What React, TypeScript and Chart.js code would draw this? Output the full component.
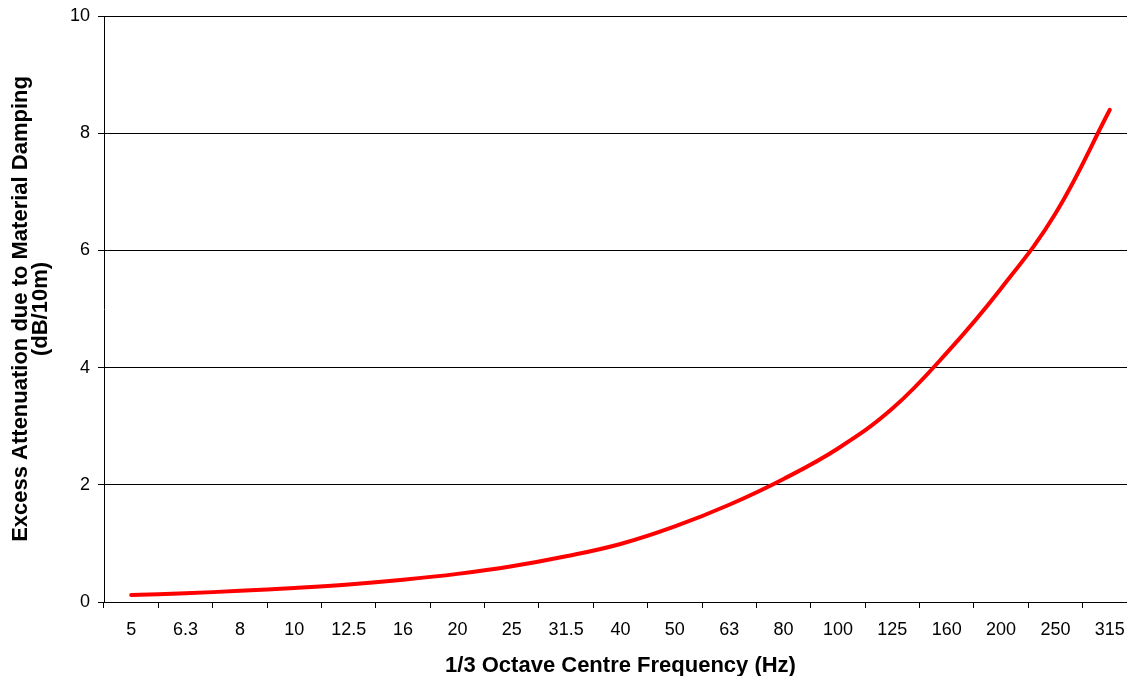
import React, { useEffect, useRef } from "react";
import { Chart, registerables } from "chart.js";

Chart.register(...registerables);

const categories = ["5", "6.3", "8", "10", "12.5", "16", "20", "25", "31.5", "40", "50", "63", "80", "100", "125", "160", "200", "250", "315"];
const attenuation = [0.12, 0.15, 0.19, 0.24, 0.30, 0.38, 0.48, 0.61, 0.78, 0.99, 1.29, 1.66, 2.10, 2.62, 3.30, 4.25, 5.35, 6.63, 8.40];
const yTitle = ["Excess Attenuation due to Material Damping", "(dB/10m)"];
const xTitle = "1/3 Octave Centre Frequency (Hz)";

const FONT = "'Liberation Sans', Arial, sans-serif";

export default function App() {
  const ref = useRef<HTMLCanvasElement | null>(null);

  useEffect(() => {
    if (!ref.current) return;
    const chart = new Chart(ref.current, {
      type: "line",
      data: {
        labels: categories,
        datasets: [
          {
            data: attenuation,
            borderColor: "#ff0000",
            borderWidth: 4,
            borderCapStyle: "round",
            borderJoinStyle: "round",
            pointRadius: 0,
            tension: 0.4,
            fill: false,
          },
        ],
      },
      options: {
        animation: false,
        responsive: false,
        devicePixelRatio: 1,
        layout: { padding: { left: 0, top: 16, right: 23, bottom: 0 } },
        plugins: { legend: { display: false }, tooltip: { enabled: false } },
        scales: {
          x: {
            type: "category",
            offset: true,
            grid: {
              display: true,
              drawOnChartArea: false,
              drawTicks: true,
              tickLength: 6,
              offset: true,
              color: "#000",
              lineWidth: 1,
            },
            border: { display: true, color: "#000", width: 1 },
            ticks: {
              color: "#000",
              font: { family: FONT, size: 18 },
              padding: 11,
              maxRotation: 0,
              autoSkip: false,
            },
            title: {
              display: true,
              text: xTitle,
              color: "#000",
              font: { family: FONT, size: 22, weight: "bold", lineHeight: 0.95 },
              padding: { top: 0, bottom: 0 },
            },
            afterFit: (scale: any) => {
              scale.height = 74;
            },
          },
          y: {
            min: 0,
            max: 10,
            ticks: {
              stepSize: 2,
              color: "#000",
              font: { family: FONT, size: 18 },
              padding: 8,
            },
            grid: {
              display: true,
              drawOnChartArea: true,
              drawTicks: true,
              tickLength: 6,
              color: "#000",
              lineWidth: 1,
            },
            border: { display: true, color: "#000", width: 1 },
            title: {
              display: true,
              text: yTitle,
              color: "#000",
              font: { family: FONT, size: 22, weight: "bold", lineHeight: 0.9 },
              padding: { top: 11, bottom: 0 },
            },
            afterFit: (scale: any) => {
              scale.width = 104;
              scale.paddingTop = 0;
              scale.paddingBottom = 0;
            },
          },
        },
      },
    });
    return () => chart.destroy();
  }, []);

  return (
    <div
      style={{
        position: "fixed",
        left: 0,
        top: 0,
        width: 1127,
        height: 676,
        overflow: "hidden",
        background: "#fff",
      }}
    >
      <canvas ref={ref} width={1160} height={676} style={{ width: 1160, height: 676, display: "block" }} />
    </div>
  );
}
